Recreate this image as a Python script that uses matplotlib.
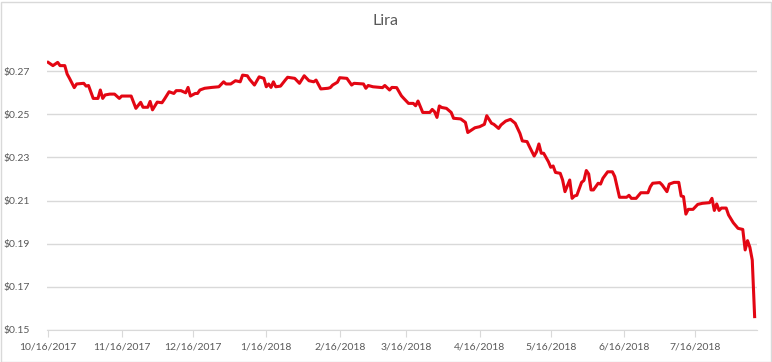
import numpy as np
import pandas as pd
import matplotlib
matplotlib.use("Agg")
import matplotlib.pyplot as plt
import matplotlib.dates as mdates
from matplotlib.ticker import FuncFormatter
from matplotlib.patches import Rectangle

plt.rcParams['font.family'] = ['Lato', 'DejaVu Sans']

# days counted from the first date on the axis
start_date = "2017-10-16"
day_offset = [0, 2, 4, 5, 7, 8, 9, 11, 12, 15, 16, 17, 19, 21, 22, 23, 24, 26, 28, 30, 31, 35, 37, 39, 40, 42, 43, 44, 46,
              48, 49, 51, 53, 54, 56, 58, 59, 60, 62, 63, 64, 66, 69, 72, 74, 75, 77, 79, 81, 82, 84, 85, 87, 89, 91, 92, 93,
              94, 95, 96, 98, 100,
              101, 104, 106, 108, 110, 112, 113, 115, 118, 119, 120, 122, 123, 126, 128, 129, 133, 134, 135, 137, 141, 142,
              144, 145, 147,
              149, 150, 152, 154, 155, 156, 158, 161, 162, 163, 164, 165, 166, 168, 170, 171, 174, 176, 177, 180, 182, 184,
              185, 187, 188, 190, 191, 193, 195, 197, 199, 200,
              202, 203, 205, 206, 207, 208, 209, 211, 212, 213, 214, 216, 217, 218, 220, 221, 222, 223, 225, 226, 227, 228,
              229, 230, 232, 233, 234, 236, 238, 239, 241, 244, 245, 246, 248,
              250, 253, 254, 255, 258, 259, 261, 262, 264, 266, 267, 268, 269, 270, 272, 274, 276, 279, 280, 281, 282, 283,
              284, 286, 287, 289, 291, 293, 294, 295, 296, 297, 298]
lira_usd = [0.274, 0.2725, 0.274, 0.2725, 0.2725, 0.2686, 0.2666, 0.2623, 0.264, 0.2643, 0.263, 0.2633, 0.2573, 0.2573,
            0.2612, 0.2573, 0.2589, 0.2593, 0.2593, 0.2573, 0.2584, 0.2584, 0.2527, 0.2555, 0.2532, 0.2532, 0.2559, 0.252,
            0.2556,
            0.2553, 0.2569, 0.2604, 0.2596, 0.2609, 0.2609, 0.2599, 0.2624, 0.2584, 0.2596, 0.2596, 0.2612, 0.262, 0.2624,
            0.2627, 0.265, 0.264, 0.264, 0.2655, 0.265, 0.2681, 0.2678, 0.2661, 0.2635, 0.2673, 0.2666, 0.2627, 0.264,
            0.2624, 0.265, 0.2627, 0.263, 0.2658,
            0.2671, 0.2666, 0.2643, 0.2678, 0.2655, 0.265, 0.2658, 0.2617, 0.262, 0.2623, 0.2635, 0.2648, 0.2669, 0.2666,
            0.2635, 0.2643, 0.264, 0.262, 0.2633, 0.2627, 0.2623, 0.2633, 0.2612, 0.2624, 0.2623,
            0.2585, 0.2573, 0.255, 0.255, 0.2539, 0.2561, 0.2508, 0.2508, 0.2522, 0.2511, 0.2485, 0.2538, 0.2531, 0.2527,
            0.2508, 0.2481, 0.2478, 0.2462, 0.2415, 0.2437, 0.2442, 0.2453, 0.2493, 0.2458, 0.2453, 0.2434, 0.245, 0.2468,
            0.2476, 0.2458, 0.2411, 0.2376,
            0.2373, 0.235, 0.2306, 0.2326, 0.2362, 0.2319, 0.2319, 0.228, 0.2254, 0.226, 0.223, 0.2226, 0.2195, 0.2141,
            0.2195, 0.211, 0.2121, 0.2124, 0.2184, 0.2193, 0.2239, 0.2223, 0.2149, 0.2149, 0.218, 0.2176, 0.2203, 0.2233,
            0.2233, 0.2211, 0.2115, 0.2115, 0.2124, 0.211, 0.211,
            0.2136, 0.2136, 0.2164, 0.218, 0.2183, 0.2172, 0.2141, 0.2176, 0.2184, 0.2184, 0.2121, 0.2118, 0.2037, 0.2059,
            0.2059, 0.2082, 0.2087, 0.209, 0.211, 0.2054, 0.2084, 0.2054, 0.2065, 0.2065, 0.2033, 0.1997, 0.1971, 0.1966,
            0.1871, 0.1914, 0.1883, 0.1824, 0.1562]

tick_dates = ["2017-10-16", "2017-11-16", "2017-12-16", "2018-01-16", "2018-02-16", "2018-03-16",
              "2018-04-16", "2018-05-16", "2018-06-16", "2018-07-16"]
y_ticks = [0.15, 0.17, 0.19, 0.21, 0.23, 0.25, 0.27]

dates = pd.Timestamp(start_date) + pd.to_timedelta(day_offset, unit="D")

fig = plt.figure(figsize=(7.72, 3.62), dpi=100)
ax = fig.add_axes([47 / 772, 1 - 330 / 362, 710 / 772, (330 - 49) / 362])

ax.plot(dates, lira_usd, color="#e30613", linewidth=2.2, solid_joinstyle="round")

ax.set_ylim(0.15, 0.2802)
ax.set_yticks(y_ticks)
ax.yaxis.set_major_formatter(FuncFormatter(lambda v, p: "${:.2f}".format(v)))
ax.set_xlim(pd.Timestamp(start_date) - pd.Timedelta(hours=12), dates[-1] + pd.Timedelta(hours=24))
ax.set_xticks(pd.to_datetime(tick_dates))
ax.xaxis.set_major_formatter(mdates.DateFormatter("%-m/%-d/%Y"))

ax.grid(axis="y", color="#d9d9d9", linewidth=1)
ax.set_axisbelow(True)
for side in ["top", "right", "left"]:
    ax.spines[side].set_visible(False)
ax.spines["bottom"].set_color("#d9d9d9")
ax.tick_params(axis="y", length=0, pad=12, labelsize=7.5, labelcolor="#595959")
ax.tick_params(axis="x", length=5, color="#d9d9d9", pad=4, labelsize=7.5, labelcolor="#595959")

fig.text(0.5, 1 - 21 / 362, "Lira", ha="center", va="center", fontsize=11.5, color="#595959")
fig.patches.append(Rectangle((0.5 / 772, 0.5 / 362), 770 / 772, 360 / 362, transform=fig.transFigure,
                             fill=False, edgecolor="#d9d9d9", linewidth=1))

fig.savefig("out.png", dpi=100)
